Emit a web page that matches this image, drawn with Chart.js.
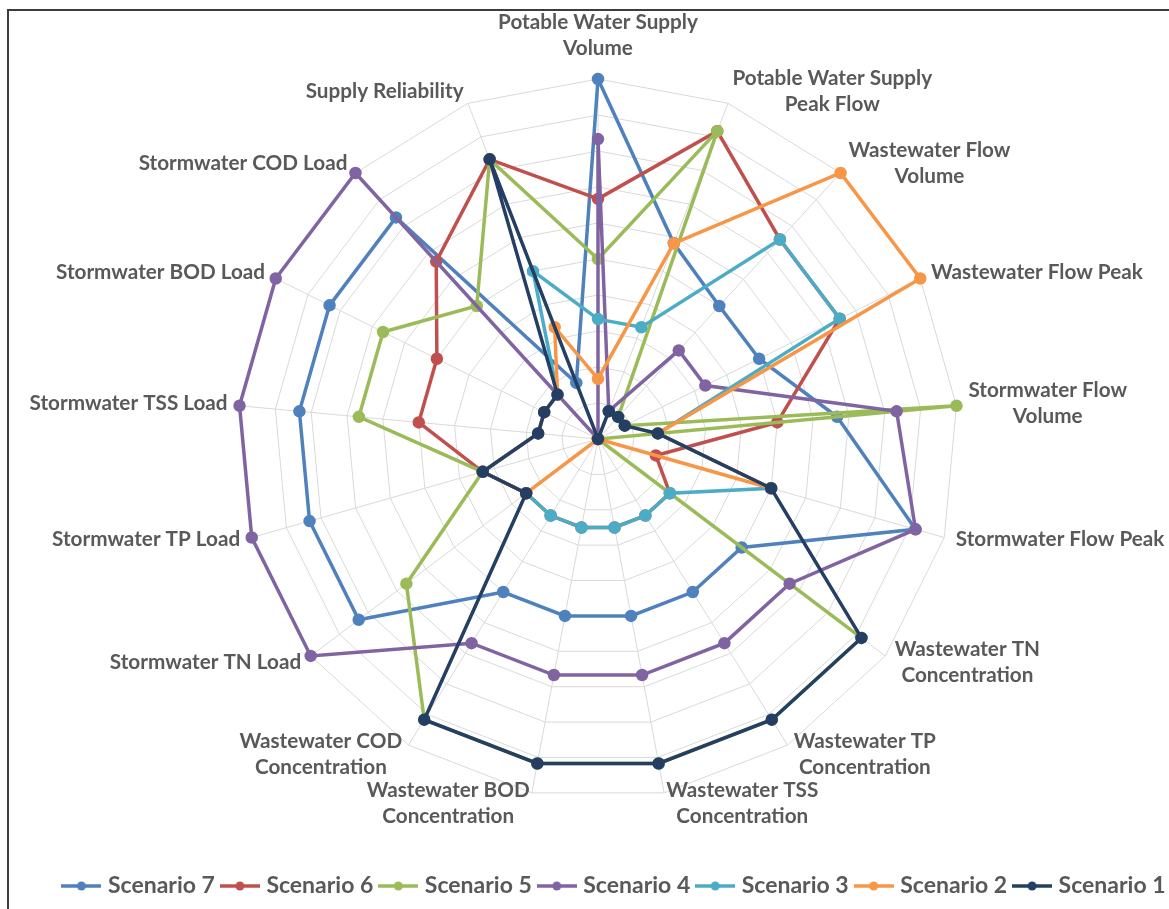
<!DOCTYPE html>
<html>
<head>
<meta charset="utf-8">
<script src="https://cdn.jsdelivr.net/npm/chart.js@4.4.1/dist/chart.umd.min.js"></script>
<style>
  html, body { margin: 0; padding: 0; background: #ffffff; overflow: hidden; width: 1169px; height: 909px; }
  #frame { position: absolute; left: 7px; top: 9px; width: 1300px; height: 1000px;
           border-left: 2px solid #3c3c3c; border-top: 2px solid #3c3c3c; box-sizing: border-box; }
  #c { position: absolute; left: 0; top: 0; }
</style>
</head>
<body>
<div id="frame"></div>
<canvas id="c" width="1196" height="909"></canvas>
<script>
const categories = [
  ['Potable Water Supply', 'Volume'],
  ['Potable Water Supply', 'Peak Flow'],
  ['Wastewater Flow', 'Volume'],
  'Wastewater Flow Peak',
  ['Stormwater Flow', 'Volume'],
  'Stormwater Flow Peak',
  ['Wastewater TN', 'Concentration'],
  ['Wastewater TP', 'Concentration'],
  ['Wastewater TSS', 'Concentration'],
  ['Wastewater BOD', 'Concentration'],
  ['Wastewater COD', 'Concentration'],
  'Stormwater TN Load',
  'Stormwater TP Load',
  'Stormwater TSS Load',
  'Stormwater BOD Load',
  'Stormwater COD Load',
  'Supply Reliability'
];

const seriesNames = ['Scenario 7', 'Scenario 6', 'Scenario 5', 'Scenario 4', 'Scenario 3', 'Scenario 2', 'Scenario 1'];

const scenario7 = [10, 5.83, 5, 5, 6.67, 9.17, 5, 5, 5, 5, 5, 8.33, 8.33, 8.33, 8.33, 8.33, 1.67];
const scenario6 = [6.67, 9.17, 7.5, 7.5, 5, 1.67, 2.5, 2.5, 2.5, 2.5, 2.5, 2.5, 3.33, 5, 5, 6.67, 8.33];
const scenario5 = [5, 9.17, 0.83, 0.83, 10, 0, 9.17, 9.17, 9.17, 9.17, 9.17, 6.67, 3.33, 6.67, 6.67, 5, 8.33];
const scenario4 = [8.33, 0.83, 3.33, 3.33, 8.33, 9.17, 6.67, 6.67, 6.67, 6.67, 6.67, 10, 10, 10, 10, 10, 0];
const scenario3 = [3.33, 3.33, 7.5, 7.5, 1.67, 5, 2.5, 2.5, 2.5, 2.5, 2.5, 2.5, 3.33, 1.67, 1.67, 1.67, 5];
const scenario2 = [1.67, 5.83, 10, 10, 1.67, 5, 0, 0, 0, 0, 0, 2.5, 3.33, 1.67, 1.67, 1.67, 3.33];
const scenario1 = [0, 0.83, 0.83, 0.83, 1.67, 5, 9.17, 9.17, 9.17, 9.17, 9.17, 2.5, 3.33, 1.67, 1.67, 1.67, 8.33];

const seriesValues = [scenario7, scenario6, scenario5, scenario4, scenario3, scenario2, scenario1];
const seriesColors = ['#4F81BD', '#C0504D', '#9BBB59', '#8064A2', '#4BACC6', '#F79646', '#243F63'];

const axisMin = 0, axisMax = 10, axisStep = 1;

const TEXT_COLOR = '#595959';
const LABEL_FONT = 'bold 20.7px Lato, "Open Sans", sans-serif';
const LABEL_LINE = 26;
const LEGEND_SHIFT = 18;

function legendMarker(color) {
  const cv = document.createElement('canvas');
  cv.width = 40; cv.height = 12;
  const g = cv.getContext('2d');
  g.strokeStyle = color; g.lineWidth = 3.5;
  g.beginPath(); g.moveTo(0, 6); g.lineTo(40, 6); g.stroke();
  g.fillStyle = color;
  g.beginPath(); g.arc(20, 6, 4.5, 0, Math.PI * 2); g.fill();
  return cv;
}

const pointLabelPlugin = {
  id: 'pointLabelPlugin',
  afterLayout(chart) {
    if (chart.legend) {
      chart.legend.left += LEGEND_SHIFT;
      chart.legend.right += LEGEND_SHIFT;
    }
  },
  afterDraw(chart) {
    const scale = chart.scales.r;
    const ctx = chart.ctx;
    ctx.save();
    ctx.font = LABEL_FONT;
    ctx.fillStyle = TEXT_COLOR;
    ctx.textAlign = 'center';
    ctx.textBaseline = 'middle';
    categories.forEach((lab, i) => {
      const lines = Array.isArray(lab) ? lab : [lab];
      const p = scale.getPointPosition(i, scale.drawingArea + 12);
      const ang = scale.getIndexAngle(i);
      const s = Math.sin(ang);
      const w = Math.max(...lines.map(l => ctx.measureText(l).width));
      const h = lines.length * LABEL_LINE;
      let cx;
      if (Math.abs(s) < 0.05) cx = p.x;
      else if (s > 0) cx = p.x + w / 2;
      else cx = p.x - w / 2;
      let top;
      if (Math.abs(s) < 0.05 && Math.cos(ang) > 0) top = p.y - 6 - h;
      else top = p.y - 1 - h / 2;
      lines.forEach((l, k) => ctx.fillText(l, cx, top + LABEL_LINE * (k + 0.5)));
    });
    ctx.restore();
  }
};

const datasets = seriesNames.map((name, i) => ({
  label: name,
  data: seriesValues[i],
  borderColor: seriesColors[i],
  backgroundColor: seriesColors[i],
  pointBackgroundColor: seriesColors[i],
  pointBorderColor: seriesColors[i],
  pointRadius: 4.5,
  pointHoverRadius: 5,
  borderWidth: 3.5,
  tension: 0,
  fill: false,
  order: seriesNames.length - i
}));

new Chart(document.getElementById('c'), {
  type: 'radar',
  data: { labels: categories, datasets },
  plugins: [pointLabelPlugin],
  options: {
    responsive: false,
    animation: false,
    devicePixelRatio: 1,
    layout: { padding: { top: 79, bottom: 1.5, left: 0, right: 0 } },
    scales: {
      r: {
        min: axisMin,
        max: axisMax,
        beginAtZero: true,
        ticks: { display: false, stepSize: axisStep },
        grid: { color: '#D9D9D9', lineWidth: 1 },
        angleLines: { display: true, color: '#D9D9D9', lineWidth: 1 },
        pointLabels: { display: false }
      }
    },
    plugins: {
      tooltip: { enabled: false },
      legend: {
        position: 'bottom',
        title: { display: true, text: '', padding: { top: 51.1, bottom: 0 } },
        labels: {
          usePointStyle: true,
          pointStyleWidth: 30,
          padding: 10,
          color: TEXT_COLOR,
          font: { family: 'Lato, "Open Sans", sans-serif', size: 23, weight: 'bold' },
          sort: (a, b) => a.datasetIndex - b.datasetIndex,
          generateLabels(chart) {
            const items = Chart.defaults.plugins.legend.labels.generateLabels(chart);
            items.forEach(it => { it.pointStyle = legendMarker(seriesColors[it.datasetIndex]); });
            return items;
          }
        }
      }
    }
  }
});
</script>
</body>
</html>
